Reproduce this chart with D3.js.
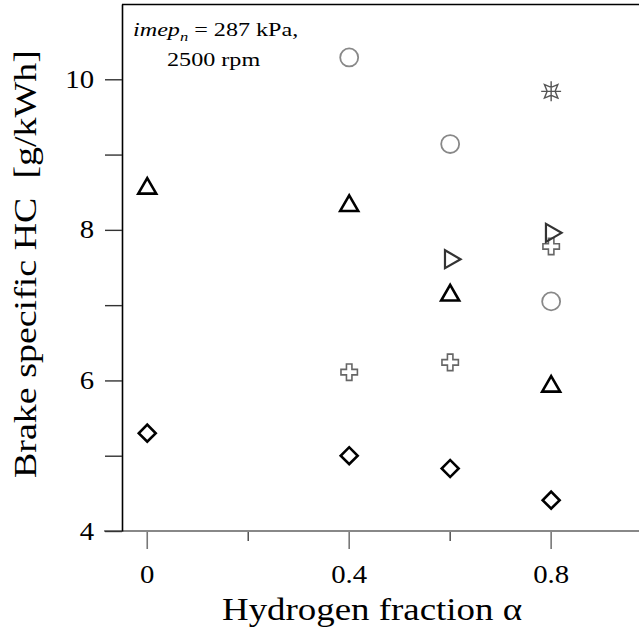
<!DOCTYPE html>
<html>
<head>
<meta charset="utf-8">
<script src="https://cdn.jsdelivr.net/npm/d3@7"></script>
<style>
  body { margin: 0; background: #fff; }
  svg { display: block; }
  text { font-family: "Liberation Serif", "Times New Roman", serif; fill: #000; }
</style>
</head>
<body>
<script>
// hydrogen fraction alpha for each series
var triUpX = [0, 0.4, 0.6, 0.8];
var triUpY = [8.55, 8.32, 7.13, 5.92];

var diamondX = [0, 0.4, 0.6, 0.8];
var diamondY = [5.30, 5.00, 4.83, 4.41];

var circleX = [0.4, 0.6, 0.8];
var circleY = [10.29, 9.14, 7.05];

var crossX = [0.4, 0.6, 0.8];
var crossY = [6.11, 6.24, 7.78];

var triRightX = [0.6, 0.8];
var triRightY = [7.61, 7.96];

var starX = [0.8];
var starY = [9.84];

var yTickValues = [4, 5, 6, 7, 8, 9, 10];
var yTickLabels = ["4", "", "6", "", "8", "", "10"];
var xMajorTicks = [0, 0.4, 0.8];
var xMinorTicks = [0.2, 0.6];
var xTickLabels = ["0", "0.4", "0.8"];

var width = 639, height = 637;

var svg = d3.select("body").append("svg")
	.attr("width", width)
	.attr("height", height);

var x = d3.scaleLinear().domain([-0.05, 0.975]).range([122, 639.5]);
var y = d3.scaleLinear().domain([4, 11]).range([531, 4]);

// the original font is a bit wider than Liberation Serif, stretch it
function stretch(sel, factor) {
	sel.each(function() {
		var w = this.getComputedTextLength();
		if (w > 0) {
			d3.select(this).attr("textLength", w * factor).attr("lengthAdjust", "spacingAndGlyphs");
		}
	});
}

// top frame line
svg.append("line")
	.attr("x1", x.range()[0]).attr("x2", width)
	.attr("y1", 4.5).attr("y2", 4.5)
	.attr("stroke", "#000").attr("stroke-width", 1.6);

// x axis (gray line, major and minor ticks)
var xAxisG = svg.append("g").attr("transform", "translate(0," + y(4) + ")");
xAxisG.append("line")
	.attr("x1", 104).attr("x2", width)
	.attr("stroke", "#888").attr("stroke-width", 2.2);
xAxisG.selectAll(".major").data(xMajorTicks).enter().append("line")
	.attr("x1", d => x(d)).attr("x2", d => x(d))
	.attr("y1", 1).attr("y2", 18)
	.attr("stroke", "#777").attr("stroke-width", 1.6);
xAxisG.selectAll(".minor").data(xMinorTicks).enter().append("line")
	.attr("x1", d => x(d)).attr("x2", d => x(d))
	.attr("y1", 1).attr("y2", 10)
	.attr("stroke", "#444").attr("stroke-width", 1.4);
var xLabels = xAxisG.selectAll(".lbl").data(xMajorTicks).enter().append("text")
	.attr("x", d => x(d))
	.attr("y", 52)
	.attr("text-anchor", "middle")
	.attr("font-size", 25)
	.text((d, i) => xTickLabels[i]);
stretch(xLabels, 1.15);

// y axis
var yAxis = d3.axisLeft(y)
	.tickValues(yTickValues)
	.tickSize(17)
	.tickSizeOuter(0)
	.tickPadding(11)
	.tickFormat((d, i) => yTickLabels[i]);

var yAxisG = svg.append("g")
	.attr("transform", "translate(" + x.range()[0] + ",0)")
	.call(yAxis);
yAxisG.select(".domain").attr("stroke", "#000").attr("stroke-width", 1.6);
yAxisG.selectAll(".tick line").attr("stroke", "#333").attr("stroke-width", 1.4);
yAxisG.selectAll(".tick text")
	.attr("font-family", "Liberation Serif, serif")
	.attr("font-size", 25)
	.attr("fill", "#000");
stretch(yAxisG.selectAll(".tick text"), 1.15);

// axis titles
svg.append("text")
	.attr("x", 372)
	.attr("y", 620)
	.attr("text-anchor", "middle")
	.attr("font-size", 31)
	.attr("textLength", 300)
	.attr("lengthAdjust", "spacingAndGlyphs")
	.text("Hydrogen fraction \u03b1");

svg.append("text")
	.attr("transform", "translate(36,264) rotate(-90)")
	.attr("text-anchor", "middle")
	.attr("font-size", 31)
	.attr("textLength", 428)
	.attr("lengthAdjust", "spacingAndGlyphs")
	.style("white-space", "pre")
	.text("Brake specific HC  [g/kWh]");

// annotation
var ann = svg.append("text")
	.attr("x", 133)
	.attr("y", 36)
	.attr("font-size", 19);
ann.append("tspan").attr("font-style", "italic").text("imep");
ann.append("tspan").attr("font-style", "italic").attr("font-size", 13).attr("dy", 5).text("n");
ann.append("tspan").attr("dy", -5).text(" = 287 kPa,");
stretch(ann.selectAll("tspan"), 1.27);

var ann2 = svg.append("text")
	.attr("x", 167)
	.attr("y", 66)
	.attr("font-size", 19)
	.text("2500 rpm");
stretch(ann2, 1.27);

// custom spiky star symbol
var starSymbol = {
	draw: function(context, size) {
		var r = Math.sqrt(size) / 2;
		var ri = r * 0.42;
		for (var i = 0; i < 8; i++) {
			var a = i * Math.PI / 4 + Math.PI / 4;
			var rr = (i % 2 === 0) ? r : ri;
			var px = rr * Math.cos(a), py = rr * Math.sin(a);
			if (i === 0) context.moveTo(px, py); else context.lineTo(px, py);
		}
		context.closePath();
		context.moveTo(0, -r * 1.05); context.lineTo(0, r * 1.05);
		context.moveTo(-r * 1.05, 0); context.lineTo(r * 1.05, 0);
	}
};

function drawSeries(xs, ys, type, size, stroke, sw, rot) {
	var pts = xs.map((d, i) => ({x: d, y: ys[i]}));
	svg.append("g").selectAll("path").data(pts).enter().append("path")
		.attr("d", d3.symbol().type(type).size(size))
		.attr("transform", d => "translate(" + x(d.x) + "," + y(d.y) + ") rotate(" + (rot || 0) + ")")
		.attr("fill", "none")
		.attr("stroke", stroke)
		.attr("stroke-width", sw)
		.attr("stroke-linejoin", "miter");
}

drawSeries(triUpX, triUpY, d3.symbolTriangle, 140, "#000", 2.6, 0);
drawSeries(diamondX, diamondY, d3.symbolSquare, 144, "#000", 2.6, 45);
drawSeries(circleX, circleY, d3.symbolCircle, 254, "#888", 1.8, 0);
drawSeries(crossX, crossY, d3.symbolCross, 150, "#666", 1.6, 0);
drawSeries(triRightX, triRightY, d3.symbolTriangle, 140, "#333", 2.2, 90);
drawSeries(starX, starY, starSymbol, 360, "#555", 1.4, 0);
</script>
</body>
</html>
